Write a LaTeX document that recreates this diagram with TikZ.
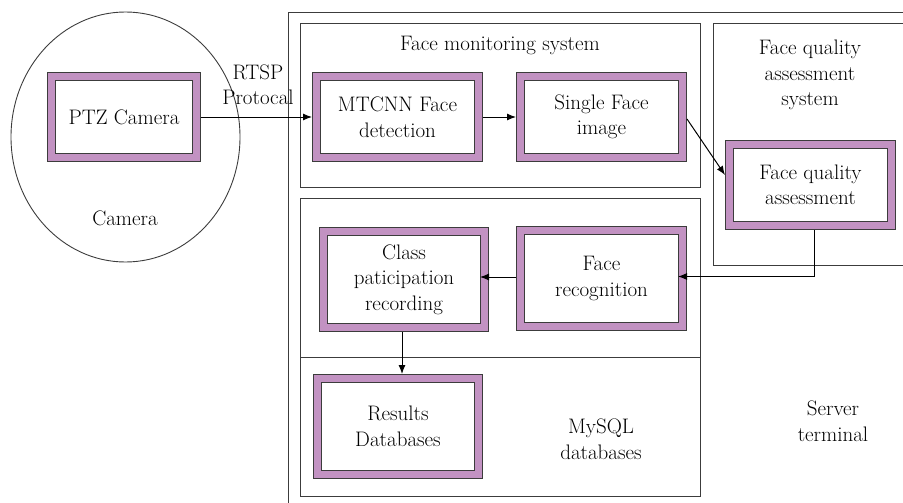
\documentclass[tikz,border=0pt]{standalone}
\usetikzlibrary{arrows.meta,calc}
\definecolor{pboxc}{RGB}{194,146,194}
\definecolor{edgec}{RGB}{60,60,60}
\begin{document}
\begin{tikzpicture}[x=1pt,y=-1pt,
  font=\fontsize{21}{25.5}\selectfont,
  pbox/.style={draw=edgec, line width=1pt, double=pboxc, double distance=7pt,
    fill=white, minimum width=162pt, minimum height=81pt, outer sep=4.5pt,
    align=center, inner sep=0pt},
  frame/.style={draw=edgec, line width=0.9pt},
  arr/.style={draw=black, line width=1pt, -{Latex[length=9pt,width=7pt]}},
  lbl/.style={align=center, inner sep=0pt}]
\useasboundingbox (0,0) rectangle (903,503);
\clip (0,0) rectangle (903,503);
% containers
\draw[frame] (288,12) rectangle (940,540);
\draw[frame] (125.5,137) ellipse [x radius=114.5pt, y radius=125pt];
\draw[frame] (300,23) rectangle (700,187);
\draw[frame] (713,23) rectangle (940,265);
\draw[frame] (300,198) rectangle (700,357);
\draw[frame] (300,357) rectangle (700,496);
% boxes
\node[pbox, minimum width=145pt] (ptz) at (124,117) {PTZ Camera};
\node[pbox] (mtcnn) at (397.5,117) {MTCNN Face\\detection};
\node[pbox] (single) at (601.5,117) {Single Face\\image};
\node[pbox] (fqa) at (810.5,185) {Face quality\\assessment};
\node[pbox, minimum width=161pt, minimum height=96pt] (cls) at (404,279.5) {Class\\paticipation\\recording};
\node[pbox, minimum height=96pt] (frec) at (601.5,278.5) {Face\\recognition};
\node[pbox, minimum width=161pt, minimum height=96pt] (res) at (398,426.5) {Results\\Databases};
% labels
\node[lbl] (cam) at (125,218) {Camera};
\node[lbl] (rtsp) at (258,84.5) {RTSP\\Protocal};
\node[lbl] (fms) at (500,45) {Face monitoring system};
\node[lbl] (fqas) at (810,75) {Face quality\\assessment\\system};
\node[lbl] (mysql) at (601,439) {MySQL\\databases};
\node[lbl] (srv) at (833,421) {Server\\terminal};
% arrows
\draw[arr] (ptz.east) -- (mtcnn.west);
\draw[arr] (mtcnn.east) -- (single.west);
\draw[arr] ([yshift=-2pt]single.east) -- ([yshift=10pt]fqa.west);
\draw[arr, shorten >=-9pt] ([xshift=3.5pt]fqa.south) |- ([yshift=2pt]frec.east);
\draw[arr, shorten >=-9pt] ([yshift=1.5pt]frec.west) -- ([yshift=1.5pt]frec.west -| cls.east);
\draw[arr] (cls.south -| 402,0) -- (res.north -| 402,0);
\end{tikzpicture}
\end{document}
